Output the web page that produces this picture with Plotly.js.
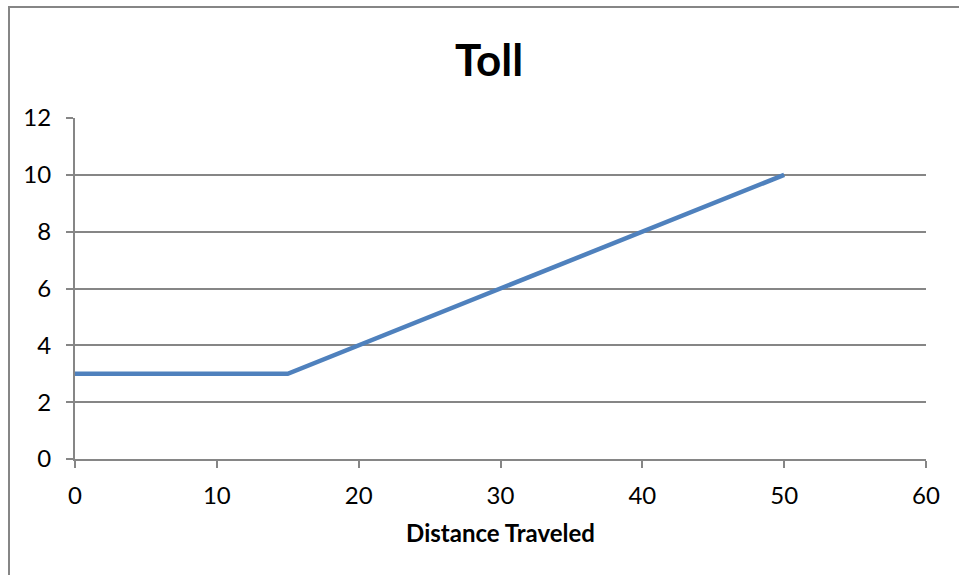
<!DOCTYPE html>
<html>
<head>
<meta charset="utf-8">
<script src="https://cdn.plot.ly/plotly-3.0.1.min.js"></script>
<style>
  html, body { margin: 0; padding: 0; background: #ffffff; overflow: hidden; }
  #frame { position: absolute; left: 8px; top: 6px; width: 1000px; height: 620px;
           border-left: 2px solid #868686; border-top: 2px solid #868686; }
  #chart { position: absolute; left: 0; top: 0; width: 959px; height: 575px; }
</style>
</head>
<body>
<div id="frame"></div>
<div id="chart"></div>
<script>
const distance = [0, 15, 50];
const toll = [3, 3, 10];
const xTicks = [0, 10, 20, 30, 40, 50, 60];
const yTicks = [0, 2, 4, 6, 8, 10, 12];

const font = "Lato, 'Open Sans', sans-serif";

const trace = {
  x: distance,
  y: toll,
  type: 'scatter',
  mode: 'lines',
  line: { color: '#4F81BD', width: 4.5 },
  hoverinfo: 'x+y',
  showlegend: false
};

const layout = {
  width: 959,
  height: 575,
  margin: { l: 75, r: 33, t: 118, b: 116 },
  paper_bgcolor: 'rgba(0,0,0,0)',
  plot_bgcolor: 'rgba(0,0,0,0)',
  font: { family: font, color: '#000000', size: 24 },
  title: {
    text: '<b>Toll</b>',
    font: { family: font, size: 44, color: '#000000' },
    x: 0.51, xanchor: 'center', y: 0.895, yanchor: 'middle', yref: 'container'
  },
  xaxis: {
    range: [0, 60],
    tickvals: xTicks,
    ticktext: xTicks.map(String),
    showgrid: false,
    zeroline: false,
    showline: true,
    linecolor: '#868686',
    linewidth: 2,
    ticks: 'outside',
    ticklen: 7,
    tickwidth: 2,
    tickcolor: '#868686',
    tickfont: { family: font, size: 24, color: '#000000' },
    ticklabelstandoff: 7,
    title: { text: '<b>Distance Traveled</b>', font: { family: font, size: 24, color: '#000000' }, standoff: 17 },
    fixedrange: true
  },
  yaxis: {
    range: [0, 12],
    tickvals: yTicks,
    ticktext: yTicks.map(String),
    showgrid: true,
    gridcolor: '#868686',
    gridwidth: 1.5,
    zeroline: false,
    showline: true,
    linecolor: '#868686',
    linewidth: 2,
    ticks: 'outside',
    ticklen: 7,
    tickwidth: 2,
    tickcolor: '#868686',
    tickfont: { family: font, size: 24, color: '#000000' },
    ticklabelstandoff: 10,
    fixedrange: true
  }
};

Plotly.newPlot('chart', [trace], layout, { displayModeBar: false });
</script>
</body>
</html>
